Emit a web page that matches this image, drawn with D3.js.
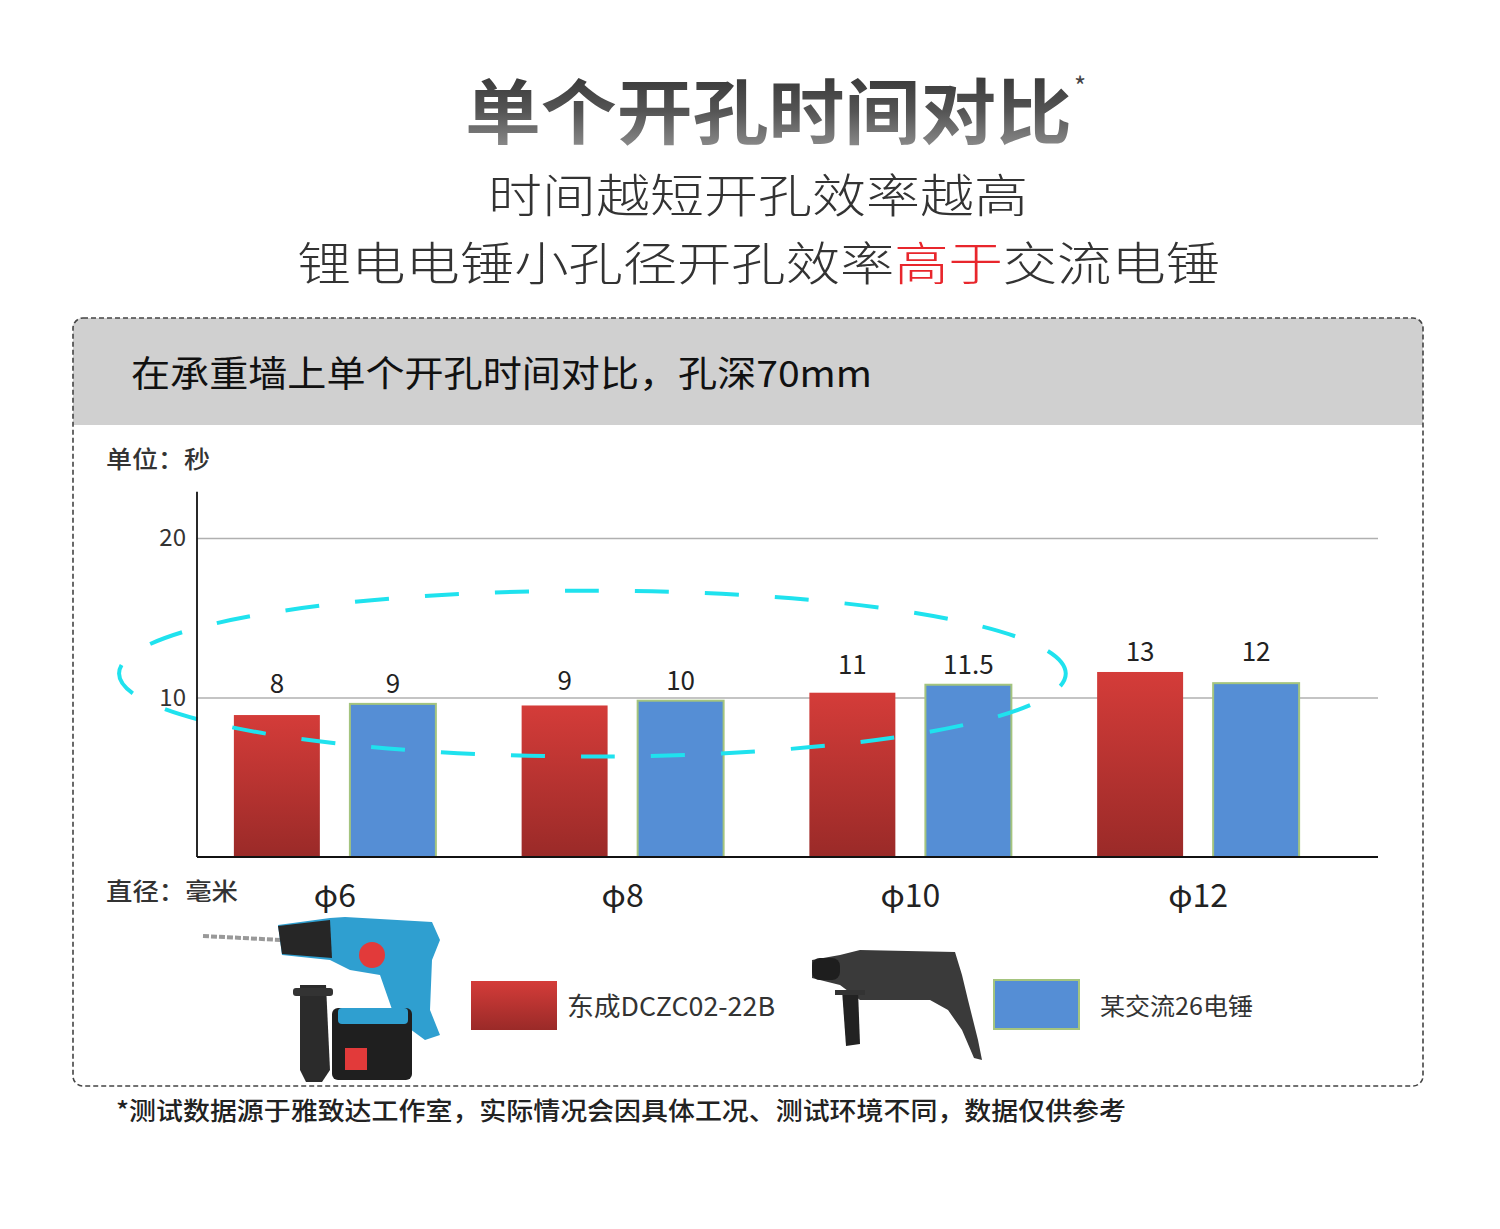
<!DOCTYPE html>
<html>
<head>
<meta charset="utf-8">
<script src="https://d3js.org/d3.v7.min.js"></script>
<style>
  body { margin: 0; background: #fff; }
  svg { display: block; font-family: "Noto Sans CJK SC", "Noto Sans", sans-serif; }
</style>
</head>
<body>
<script>
  // data
  const categories = ["φ6", "φ8", "φ10", "φ12"];
  const series = ["东成DCZC02-22B", "某交流26电锤"];
  // bar heights as drawn in the picture (seconds)
  const dongchengHeights = [8.9, 9.5, 10.3, 11.6];
  const acHeights = [9.6, 9.8, 10.8, 10.9];
  // numbers printed above the bars
  const dongchengLabels = ["8", "9", "11", "13"];
  const acLabels = ["9", "10", "11.5", "12"];
  const yTicks = [10, 20];

  const svg = d3.select("body").append("svg")
    .attr("width", 1500)
    .attr("height", 1229);

  const defs = svg.append("defs");
  const titleGrad = defs.append("linearGradient")
    .attr("id", "titleGrad").attr("x1", 0).attr("y1", 0).attr("x2", 0).attr("y2", 1);
  titleGrad.append("stop").attr("offset", "0%").attr("stop-color", "#2a2a2a");
  titleGrad.append("stop").attr("offset", "55%").attr("stop-color", "#555");
  titleGrad.append("stop").attr("offset", "100%").attr("stop-color", "#9a9a9a");

  const redGrad = defs.append("linearGradient")
    .attr("id", "redGrad").attr("x1", 0).attr("y1", 0).attr("x2", 0).attr("y2", 1);
  redGrad.append("stop").attr("offset", "0%").attr("stop-color", "#d43c39");
  redGrad.append("stop").attr("offset", "100%").attr("stop-color", "#9a2a28");

  const fills = ["url(#redGrad)", "#558ed5"];
  const strokes = ["none", "#a4c47e"];

  // titles
  svg.append("text")
    .attr("x", 465).attr("y", 137.5)
    .attr("font-size", 71).attr("font-weight", 700)
    .attr("fill", "url(#titleGrad)")
    .attr("textLength", 607).attr("lengthAdjust", "spacingAndGlyphs")
    .text("单个开孔时间对比");
  svg.append("text")
    .attr("x", 1074).attr("y", 96)
    .attr("font-size", 26).attr("fill", "#444")
    .text("*");

  svg.append("text")
    .attr("x", 488).attr("y", 212)
    .attr("font-size", 46).attr("font-weight", 300).attr("fill", "#333")
    .attr("textLength", 540).attr("lengthAdjust", "spacingAndGlyphs")
    .text("时间越短开孔效率越高");

  const sub2 = svg.append("text")
    .attr("x", 297).attr("y", 280)
    .attr("font-size", 46).attr("font-weight", 300).attr("fill", "#333")
    .attr("textLength", 923).attr("lengthAdjust", "spacingAndGlyphs");
  sub2.append("tspan").text("锂电电锤小孔径开孔效率");
  sub2.append("tspan").attr("fill", "#e8262c").text("高于");
  sub2.append("tspan").text("交流电锤");

  // panel
  const px0 = 73, px1 = 1423, py0 = 318, py1 = 1086, pr = 10, hy = 425;
  svg.append("path")
    .attr("d", `M${px0},${hy} V${py0 + pr} Q${px0},${py0} ${px0 + pr},${py0} H${px1 - pr} Q${px1},${py0} ${px1},${py0 + pr} V${hy} Z`)
    .attr("fill", "#d0d0d0");
  svg.append("rect")
    .attr("x", px0).attr("y", py0)
    .attr("width", px1 - px0).attr("height", py1 - py0)
    .attr("rx", pr)
    .attr("fill", "none")
    .attr("stroke", "#444")
    .attr("stroke-width", 1.6)
    .attr("stroke-dasharray", "5,3");

  svg.append("text")
    .attr("x", 131).attr("y", 387)
    .attr("font-size", 36).attr("font-weight", 400).attr("fill", "#111")
    .attr("textLength", 741).attr("lengthAdjust", "spacingAndGlyphs")
    .text("在承重墙上单个开孔时间对比，孔深70mm");

  svg.append("text")
    .attr("x", 106).attr("y", 468)
    .attr("font-size", 24).attr("font-weight", 500).attr("fill", "#333")
    .attr("textLength", 104).attr("lengthAdjust", "spacingAndGlyphs")
    .text("单位：秒");

  svg.append("text")
    .attr("x", 106).attr("y", 900)
    .attr("font-size", 24).attr("font-weight", 500).attr("fill", "#333")
    .attr("textLength", 132).attr("lengthAdjust", "spacingAndGlyphs")
    .text("直径：毫米");

  // scales
  const plotLeft = 197, plotRight = 1378;
  const yScale = d3.scaleLinear().domain([0, 20]).range([857, 538]);
  const xScale = d3.scaleBand().domain(categories).range([191, 1342]).padding(0);
  const xSub = d3.scaleBand().domain(series).range([-101, 101]).paddingInner(0.259);
  const center = c => xScale(c) + xScale.bandwidth() / 2;

  // grid lines
  svg.append("g")
    .attr("transform", `translate(${plotLeft},0)`)
    .call(d3.axisLeft(yScale).tickValues(yTicks).tickSize(-(plotRight - plotLeft)).tickFormat(""))
    .call(g => g.select(".domain").remove())
    .call(g => g.selectAll(".tick line").attr("stroke", "#b0b0b0").attr("stroke-width", 1.6));

  // bars
  const rows = categories.map((c, i) => ({
    cat: c,
    vals: [dongchengHeights[i], acHeights[i]],
    labels: [dongchengLabels[i], acLabels[i]]
  }));

  const groups = svg.append("g").selectAll("g")
    .data(rows)
    .join("g")
    .attr("transform", d => `translate(${center(d.cat)},0)`);

  groups.selectAll("rect")
    .data(d => d.vals.map((v, j) => ({ v, j })))
    .join("rect")
    .attr("x", d => xSub(series[d.j]))
    .attr("width", xSub.bandwidth())
    .attr("y", d => yScale(d.v))
    .attr("height", d => yScale(0) - yScale(d.v))
    .attr("fill", d => fills[d.j])
    .attr("stroke", d => strokes[d.j])
    .attr("stroke-width", 2);

  groups.selectAll("text.val")
    .data(d => d.labels.map((t, j) => ({ t, j, top: d3.max(d.vals) })))
    .join("text")
    .attr("class", "val")
    .attr("x", d => xSub(series[d.j]) + xSub.bandwidth() / 2)
    .attr("y", d => yScale(d.top) - 11)
    .attr("text-anchor", "middle")
    .attr("font-size", 26)
    .attr("fill", "#222")
    .text(d => d.t);

  // dashed ellipse annotation around the small diameters (drawn over the bars)
  const step = xScale.step();
  const ex0 = center("φ6") - 0.75 * step;
  const ex1 = center("φ10") + 0.54 * step;
  svg.append("ellipse")
    .attr("cx", (ex0 + ex1) / 2)
    .attr("cy", yScale(11.5))
    .attr("rx", (ex1 - ex0) / 2)
    .attr("ry", yScale(11.5) - yScale(16.7))
    .attr("fill", "none")
    .attr("stroke", "#1fe2ee")
    .attr("stroke-width", 4)
    .attr("stroke-dasharray", "34,36")
    .attr("stroke-dashoffset", 20);

  // y axis (black line + tick labels)
  svg.append("line")
    .attr("x1", plotLeft).attr("x2", plotLeft)
    .attr("y1", yScale(0)).attr("y2", yScale(22.9))
    .attr("stroke", "#111").attr("stroke-width", 1.8);
  svg.append("g")
    .attr("transform", `translate(${plotLeft - 8},0)`)
    .call(d3.axisLeft(yScale).tickValues(yTicks).tickSize(0))
    .call(g => g.select(".domain").remove())
    .call(g => g.selectAll("text")
      .attr("font-family", "\"Noto Sans CJK SC\", sans-serif")
      .attr("font-size", 24).attr("fill", "#333"));

  // x baseline + category labels
  svg.append("line")
    .attr("x1", plotLeft).attr("x2", plotRight)
    .attr("y1", yScale(0)).attr("y2", yScale(0))
    .attr("stroke", "#111").attr("stroke-width", 2.2);
  svg.append("g").selectAll("text")
    .data(categories)
    .join("text")
    .attr("x", d => center(d))
    .attr("y", 907)
    .attr("text-anchor", "middle")
    .attr("font-size", 32)
    .attr("fill", "#222")
    .text(d => d);

  // simple drill drawings next to the legend
  const drill1 = svg.append("g");
  drill1.append("line").attr("x1", 203).attr("y1", 936).attr("x2", 282).attr("y2", 940)
    .attr("stroke", "#999").attr("stroke-width", 4).attr("stroke-dasharray", "6,2");
  drill1.append("path")
    .attr("d", "M278,925 L330,918 L345,917 L432,922 L440,940 L432,960 L430,1010 L440,1035 L425,1040 L395,1018 L380,975 L350,970 L330,960 L282,955 Z")
    .attr("fill", "#2f9fd0");
  drill1.append("path")
    .attr("d", "M278,926 L330,920 L332,958 L282,954 Z").attr("fill", "#262626");
  drill1.append("circle").attr("cx", 372).attr("cy", 955).attr("r", 13).attr("fill", "#e23a3a");
  drill1.append("path")
    .attr("d", "M300,985 L326,985 L330,1070 L322,1082 L306,1082 L300,1070 Z").attr("fill", "#2b2b2b");
  drill1.append("rect").attr("x", 293).attr("y", 988).attr("width", 40).attr("height", 8).attr("rx", 3).attr("fill", "#333");
  drill1.append("rect").attr("x", 332).attr("y", 1008).attr("width", 80).attr("height", 72).attr("rx", 6).attr("fill", "#1f1f1f");
  drill1.append("rect").attr("x", 338).attr("y", 1008).attr("width", 70).attr("height", 16).attr("rx", 4).attr("fill", "#2f9fd0");
  drill1.append("rect").attr("x", 345).attr("y", 1048).attr("width", 22).attr("height", 22).attr("fill", "#e23a3a");

  const drill2 = svg.append("g");
  drill2.append("path")
    .attr("d", "M812,960 L840,955 L860,950 L955,952 L962,975 L968,1000 L978,1040 L982,1060 L974,1058 L962,1030 L948,1010 L930,1000 L860,1000 L840,985 L812,978 Z")
    .attr("fill", "#3a3a3a");
  drill2.append("rect").attr("x", 812).attr("y", 958).attr("width", 28).attr("height", 22).attr("rx", 8).attr("fill", "#1e1e1e");
  drill2.append("path")
    .attr("d", "M842,990 L858,990 L860,1044 L846,1046 Z").attr("fill", "#222");
  drill2.append("rect").attr("x", 835).attr("y", 990).attr("width", 30).attr("height", 5).attr("fill", "#333");

  // legend
  svg.append("rect").attr("x", 471).attr("y", 981).attr("width", 86).attr("height", 49)
    .attr("fill", fills[0]);
  svg.append("text")
    .attr("x", 567).attr("y", 1016)
    .attr("font-size", 26).attr("fill", "#333")
    .attr("textLength", 208).attr("lengthAdjust", "spacingAndGlyphs")
    .text(series[0]);
  svg.append("rect").attr("x", 994).attr("y", 980).attr("width", 85).attr("height", 49)
    .attr("fill", fills[1]).attr("stroke", strokes[1]).attr("stroke-width", 2);
  svg.append("text")
    .attr("x", 1100).attr("y", 1015)
    .attr("font-size", 24).attr("fill", "#333")
    .attr("textLength", 153).attr("lengthAdjust", "spacingAndGlyphs")
    .text(series[1]);

  // footnote
  svg.append("text")
    .attr("x", 116).attr("y", 1120)
    .attr("font-size", 25).attr("font-weight", 500).attr("fill", "#222")
    .attr("textLength", 1010).attr("lengthAdjust", "spacingAndGlyphs")
    .text("*测试数据源于雅致达工作室，实际情况会因具体工况、测试环境不同，数据仅供参考");
</script>
</body>
</html>
